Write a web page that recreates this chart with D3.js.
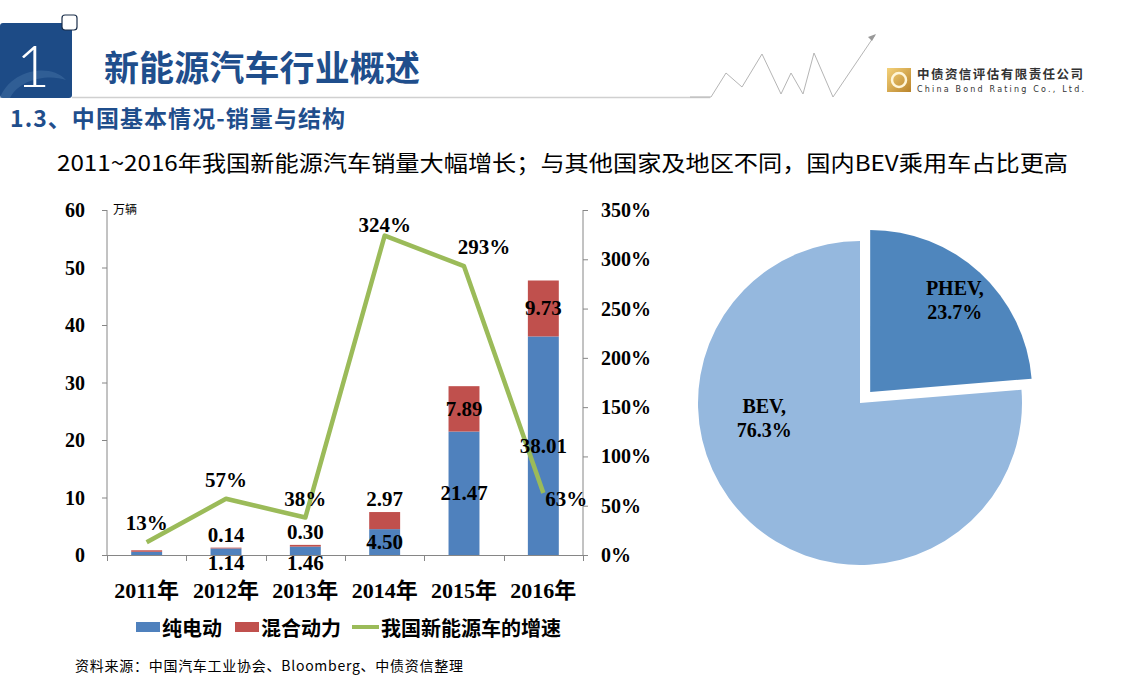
<!DOCTYPE html>
<meta charset="utf-8">
<style>
body { margin: 0; background: #fff; }
svg { display: block; }
.num { font-family: "Times New Roman", "Liberation Serif", "Noto Sans CJK SC", serif; font-weight: bold; font-size: 21px; fill: #000; }
.cjk { font-family: "Noto Sans CJK SC", "Microsoft YaHei", sans-serif; }
.axis path, .axis line { stroke: #868686; }
</style>
<body>
<script src="https://cdn.jsdelivr.net/npm/d3@7"></script>
<script>
var years = ["2011年", "2012年", "2013年", "2014年", "2015年", "2016年"];
var bev = [0.56, 1.14, 1.46, 4.50, 21.47, 38.01];
var phev = [0.26, 0.14, 0.30, 2.97, 7.89, 9.73];
var growth = [13, 57, 38, 324, 293, 63];
var leftTicks = [0, 10, 20, 30, 40, 50, 60];
var rightTicks = [0, 50, 100, 150, 200, 250, 300, 350];
var pieNames = ["PHEV", "BEV"];
var pieShares = [23.7, 76.3];

var width = 1126, height = 680;
var svg = d3.select("body").append("svg")
    .attr("width", width)
    .attr("height", height);

// ---- header ----
svg.append("rect").attr("x", 0).attr("y", 23).attr("width", 72).attr("height", 75)
    .attr("rx", 3).attr("fill", "#1d4b86");
svg.append("path").attr("d", "M0,98 C10,70 50,62 66,80 C50,74 20,78 10,98 Z")
    .attr("fill", "#3d6aa0").attr("opacity", 0.6);
svg.append("rect").attr("x", 62).attr("y", 15).attr("width", 15).attr("height", 15)
    .attr("rx", 3).attr("fill", "#fff").attr("stroke", "#1a2e4a").attr("stroke-width", 1.2);
svg.append("text").attr("x", 33).attr("y", 87).attr("text-anchor", "middle")
    .style("font-family", "Lato, 'DejaVu Sans', sans-serif").style("font-weight", 300)
    .style("font-size", "58px").attr("fill", "#fff").text("1");
svg.append("text").attr("class", "cjk").attr("x", 104).attr("y", 81)
    .style("font-size", "35px").style("font-weight", "bold").attr("fill", "#1f4e8c")
    .attr("textLength", 316).text("新能源汽车行业概述");
svg.append("line").attr("x1", 72).attr("x2", 710).attr("y1", 97.5).attr("y2", 97.5)
    .attr("stroke", "#d0d0d0").attr("stroke-width", 1.5);

// zigzag decoration
var zig = [[690, 97], [711, 97], [726, 73], [742, 87], [762, 54], [781, 94], [791, 73], [803, 94], [814, 53], [833, 97], [875, 35]];
svg.append("path").attr("d", d3.line()(zig)).attr("fill", "none")
    .attr("stroke", "#b5b5b5").attr("stroke-width", 1);
svg.append("path").attr("d", "M876,34 L868,37 L872,41 Z").attr("fill", "#999");

// logo
var lg = svg.append("defs").append("linearGradient").attr("id", "gold")
    .attr("x1", 0).attr("y1", 0).attr("x2", 1).attr("y2", 1);
lg.append("stop").attr("offset", "0%").attr("stop-color", "#f4d27a");
lg.append("stop").attr("offset", "100%").attr("stop-color", "#b9832a");
svg.append("rect").attr("x", 887).attr("y", 68).attr("width", 24).attr("height", 24).attr("fill", "url(#gold)");
svg.append("circle").attr("cx", 899).attr("cy", 80).attr("r", 7).attr("fill", "none")
    .attr("stroke", "#fff6d8").attr("stroke-width", 2.5);
svg.append("text").attr("class", "cjk").attr("x", 917).attr("y", 79)
    .style("font-size", "12.5px").style("font-weight", "bold").attr("fill", "#333")
    .attr("textLength", 166).text("中债资信评估有限责任公司");
svg.append("text").attr("x", 917).attr("y", 92)
    .style("font-family", "'DejaVu Sans', sans-serif").style("font-size", "8px").attr("fill", "#333")
    .attr("textLength", 167).text("China Bond Rating Co., Ltd.");

svg.append("text").attr("class", "cjk").attr("x", 10).attr("y", 127)
    .style("font-size", "23px").style("font-weight", "bold").attr("fill", "#1f4e8c")
    .attr("textLength", 335).text("1.3、中国基本情况-销量与结构");
svg.append("text").attr("class", "cjk").attr("x", 57).attr("y", 171)
    .style("font-size", "22px").attr("fill", "#000")
    .attr("textLength", 1011).attr("lengthAdjust", "spacingAndGlyphs")
    .text("2011~2016年我国新能源汽车销量大幅增长；与其他国家及地区不同，国内BEV乘用车占比更高");

// ---- combo chart ----
var x0 = 107, x1 = 583, yTop = 210, yBot = 555;
var x = d3.scaleBand().domain(years).range([x0, x1]).paddingInner(0.61).paddingOuter(0.305);
var y = d3.scaleLinear().domain([0, 60]).range([yBot, yTop]);
var y2 = d3.scaleLinear().domain([0, 350]).range([yBot, yTop]);

var g = svg.append("g");

g.append("g").attr("class", "axis").attr("transform", "translate(" + x0 + ",0)")
    .call(d3.axisLeft(y).tickValues(leftTicks).tickSize(5).tickFormat(""))
    .call(function(s) { s.select(".domain").attr("d", "M0," + yTop + "V" + yBot); });
g.selectAll(".lt").data(leftTicks).enter().append("text").attr("class", "num")
    .attr("x", x0 - 22).attr("y", function(d) { return y(d) + 7; })
    .attr("text-anchor", "end").style("font-size", "20px").text(function(d) { return d; });

g.append("g").attr("class", "axis").attr("transform", "translate(" + x1 + ",0)")
    .call(d3.axisRight(y2).tickValues(rightTicks).tickSize(5).tickFormat(""))
    .call(function(s) { s.select(".domain").attr("d", "M0," + yTop + "V" + yBot); });
g.selectAll(".rt").data(rightTicks).enter().append("text").attr("class", "num")
    .attr("x", x1 + 18).attr("y", function(d) { return y2(d) + 7; })
    .style("font-size", "20px").text(function(d) { return d + "%"; });

g.append("text").attr("class", "cjk").attr("x", 113).attr("y", 214)
    .style("font-size", "12px").text("万辆");

// bars
var stack = years.map(function(d, i) { return {year: d, bev: bev[i], phev: phev[i]}; });
g.selectAll(".bev").data(stack).enter().append("rect")
    .attr("x", function(d) { return x(d.year); }).attr("width", x.bandwidth())
    .attr("y", function(d) { return y(d.bev); })
    .attr("height", function(d) { return y(0) - y(d.bev); })
    .attr("fill", "#4f81bd");
g.selectAll(".phev").data(stack).enter().append("rect")
    .attr("x", function(d) { return x(d.year); }).attr("width", x.bandwidth())
    .attr("y", function(d) { return y(d.bev + d.phev); })
    .attr("height", function(d) { return y(d.bev) - y(d.bev + d.phev); })
    .attr("fill", "#c0504d");

// x axis
g.append("line").attr("x1", x0).attr("x2", x1).attr("y1", yBot + 0.5).attr("y2", yBot + 0.5)
    .attr("stroke", "#868686");
d3.range(years.length + 1).forEach(function(i) {
  var xx = Math.round(x0 + i * x.step()) + 0.5;
  g.append("line").attr("x1", xx).attr("x2", xx).attr("y1", yBot).attr("y2", yBot + 6)
      .attr("stroke", "#868686");
});
g.selectAll(".cat").data(years).enter().append("text").attr("class", "num")
    .attr("x", function(d) { return x(d) + x.bandwidth() / 2; }).attr("y", 598)
    .attr("text-anchor", "middle").style("font-size", "22px").text(function(d) { return d; });

// growth line
var cx = function(i) { return x(years[i]) + x.bandwidth() / 2; };
g.append("path").datum(growth)
    .attr("d", d3.line().x(function(d, i) { return cx(i); }).y(function(d) { return y2(d); }))
    .attr("fill", "none").attr("stroke", "#9bbb59").attr("stroke-width", 4.5)
    .attr("stroke-linejoin", "round");

// value labels (skip first year, as in the source)
stack.forEach(function(d, i) {
  if (i === 0) return;
  var bTop = y(d.bev), pTop = y(d.bev + d.phev);
  var bh = y(0) - bTop, ph = bTop - pTop;
  var by = bh < 20 ? yBot + 15 : (y(0) + bTop) / 2 + 7;
  var py = ph < 20 ? pTop - 6 : (bTop + pTop) / 2 + 7;
  g.append("text").attr("class", "num").attr("x", cx(i)).attr("y", by)
      .attr("text-anchor", "middle").text(d3.format(".2f")(d.bev));
  g.append("text").attr("class", "num").attr("x", cx(i)).attr("y", py)
      .attr("text-anchor", "middle").text(d3.format(".2f")(d.phev));
});
growth.forEach(function(d, i) {
  var last = i === growth.length - 1;
  g.append("text").attr("class", "num")
      .attr("x", last ? cx(i) + 2 : cx(i) + (i === 4 ? 20 : 0))
      .attr("y", last ? y2(d) + 13 : y2(d) - (i === 3 ? 4 : 12))
      .attr("text-anchor", last ? "start" : "middle").text(d + "%");
});

// legend
var lgd = svg.append("g").attr("class", "cjk").style("font-size", "20px").style("font-weight", "bold");
lgd.append("rect").attr("x", 136).attr("y", 622).attr("width", 24).attr("height", 10).attr("fill", "#4f81bd");
lgd.append("text").attr("x", 162).attr("y", 636).text("纯电动");
lgd.append("rect").attr("x", 235).attr("y", 622).attr("width", 24).attr("height", 10).attr("fill", "#c0504d");
lgd.append("text").attr("x", 261).attr("y", 636).text("混合动力");
lgd.append("line").attr("x1", 352).attr("x2", 379).attr("y1", 627).attr("y2", 627)
    .attr("stroke", "#9bbb59").attr("stroke-width", 4);
lgd.append("text").attr("x", 381).attr("y", 636).text("我国新能源车的增速");

svg.append("text").attr("x", 75).attr("y", 671)
    .style("font-family", "'Noto Sans CJK SC', 'Liberation Serif', sans-serif").style("font-size", "14px")
    .attr("textLength", 388).text("资料来源：中国汽车工业协会、Bloomberg、中债资信整理");

// ---- pie ----
var pcx = 860, pcy = 403, r = 162;
var pie = d3.pie().sort(null).value(function(d) { return d; });
var arcs = pie(pieShares);
var arc = d3.arc().innerRadius(0).outerRadius(r);
var pg = svg.append("g").attr("transform", "translate(" + pcx + "," + pcy + ")");
var pieColors = ["#4f86bd", "#95b8de"];
arcs.forEach(function(a, i) {
  var mid = (a.startAngle + a.endAngle) / 2;
  var off = i === 0 ? 15 : 0;
  var dx = Math.sin(mid) * off, dy = -Math.cos(mid) * off;
  pg.append("path").attr("d", arc(a)).attr("fill", pieColors[i])
      .attr("transform", "translate(" + dx + "," + dy + ")");
  var la = i === 0 ? mid : 261 * Math.PI / 180;
  var lr = i === 0 ? 125 : 97;
  var lx = Math.sin(la) * lr + dx, ly = -Math.cos(la) * lr + dy;
  var t = pg.append("text").attr("class", "num").attr("text-anchor", "middle").style("font-size", "20px");
  t.append("tspan").attr("x", lx).attr("y", ly - 5).text(pieNames[i] + ",");
  t.append("tspan").attr("x", lx).attr("y", ly + 19).text(pieShares[i].toFixed(1) + "%");
});
</script>
</body>
